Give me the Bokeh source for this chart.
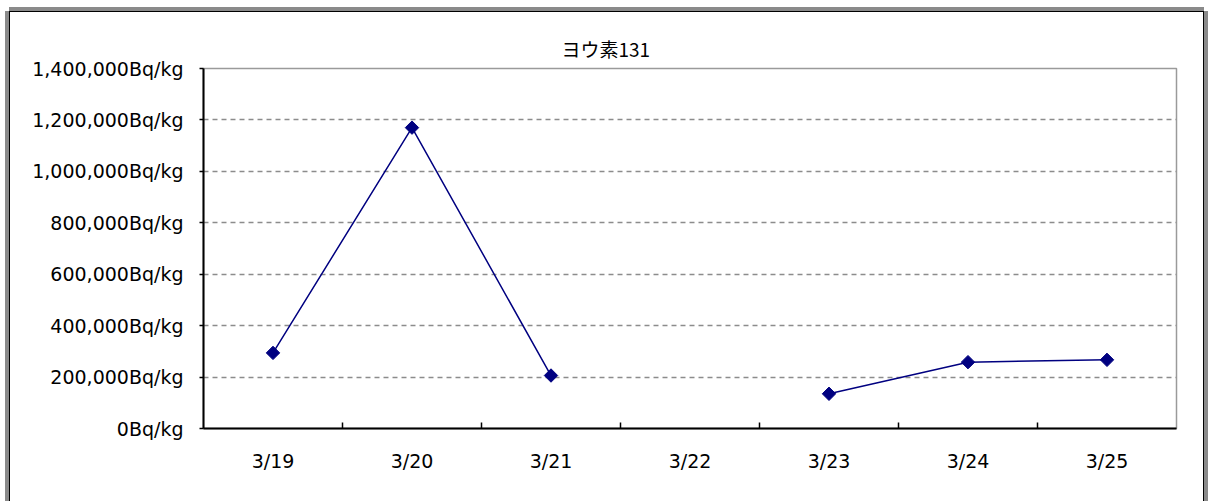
import math
from bokeh.plotting import figure
from bokeh.models import Range1d, FixedTicker
from bokeh.embed import file_html
from bokeh.resources import INLINE

# ---- data ----
chart_title = "ヨウ素131"
dates = ["3/19", "3/20", "3/21", "3/22", "3/23", "3/24", "3/25"]
iodine131 = [294000, 1170000, 206000, float("nan"), 135000, 258000, 267000]
y_ticks = [0, 200000, 400000, 600000, 800000, 1000000, 1200000, 1400000]
y_unit = "Bq/kg"

xs = [i + 0.5 for i in range(len(dates))]

p = figure(width=1195, height=490, output_backend="svg", toolbar_location=None,
           x_range=Range1d(0, len(dates)), y_range=Range1d(y_ticks[0], y_ticks[-1]),
           min_border_left=193, min_border_right=29, min_border_top=56,
           min_border_bottom=74, title=chart_title)
p.styles = {
    "margin-left": "9px",
    "margin-top": "11px",
    "border-style": "solid",
    "border-color": "#000000",
    "border-width": "1px 1px 0 1px",
    "box-shadow": "-4px 0 0 0 #8a8a8a, 0 -4px 0 0 #8a8a8a, 4px 0 0 0 #8a8a8a",
}
p.background_fill_color = "white"
p.border_fill_color = "white"
p.outline_line_color = "#9a9a9a"
p.outline_line_width = 1.5

p.title.text_font = "Noto Sans CJK JP"
p.title.text_font_size = "19px"
p.title.text_font_style = "normal"
p.title.text_color = "black"
p.title.align = "left"
p.title.offset = 358
p.title.standoff = 14

p.line(xs, iodine131, line_color="#000080", line_width=1.5)
p.scatter(xs, iodine131, marker="square", angle=math.pi / 4, size=9.5,
          fill_color="#000080", line_color="#000080")

xa = p.xaxis[0]
xa.ticker = FixedTicker(ticks=xs, minor_ticks=list(range(1, len(dates))))
xa.major_label_overrides = {x: d for x, d in zip(xs, dates)}
xa.major_tick_line_color = None
xa.minor_tick_in = 6
xa.minor_tick_out = 0
xa.minor_tick_line_color = "black"
xa.minor_tick_line_width = 1.5
xa.axis_line_color = "black"
xa.axis_line_width = 2
xa.major_label_standoff = 15
xa.major_label_text_font = "DejaVu Sans"
xa.major_label_text_font_size = "19px"
xa.major_label_text_color = "black"

ya = p.yaxis[0]
ya.ticker = FixedTicker(ticks=y_ticks)
ya.major_label_overrides = {t: f"{t:,}{y_unit}" for t in y_ticks}
ya.major_tick_in = 0
ya.major_tick_out = 4
ya.major_tick_line_color = "black"
ya.major_tick_line_width = 1.5
ya.minor_tick_line_color = None
ya.axis_line_color = "black"
ya.axis_line_width = 2
ya.major_label_standoff = 16
ya.major_label_text_font = "DejaVu Sans"
ya.major_label_text_font_size = "19px"
ya.major_label_text_color = "black"

p.xgrid.visible = False
p.ygrid.ticker = FixedTicker(ticks=y_ticks[1:-1])
p.ygrid.grid_line_dash = "5 4"
p.ygrid.grid_line_color = "#8c8c8c"
p.ygrid.grid_line_width = 1.5

open("out.html", "w").write(file_html(p, INLINE))
